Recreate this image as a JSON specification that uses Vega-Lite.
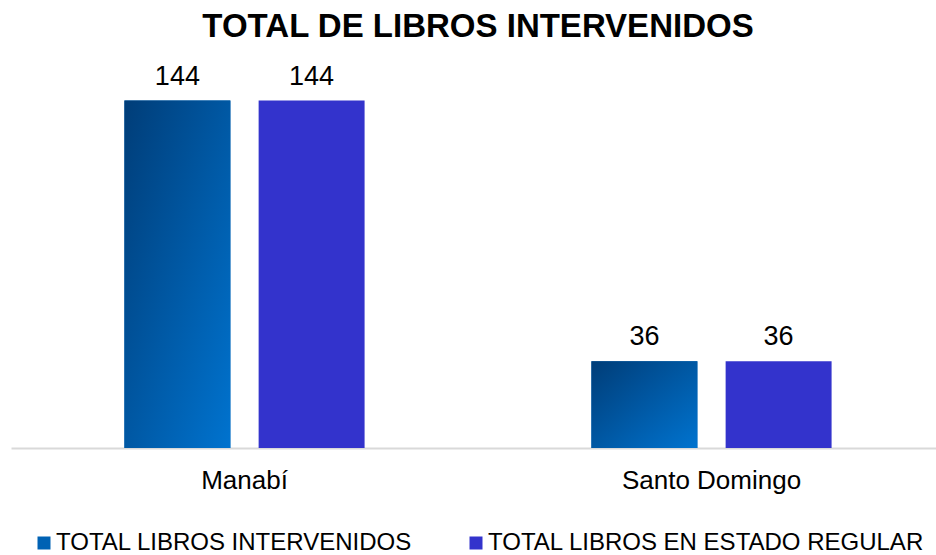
{
  "$schema": "https://vega.github.io/schema/vega-lite/v6.json",
  "autosize": {"type": "none"},
  "width": 926,
  "height": 386,
  "padding": {"left": 10, "top": 62, "right": 0, "bottom": 107},
  "background": "white",
  "config": {"view": {"stroke": null}},
  "title": {
    "text": "TOTAL DE LIBROS INTERVENIDOS",
    "font": "Liberation Sans",
    "fontSize": 33,
    "fontWeight": "bold",
    "color": "#000000",
    "anchor": "middle",
    "baseline": "alphabetic",
    "offset": 23,
    "dy": 31,
    "dx": 5
  },
  "data": {
    "values": [
      {"region": "Manabí", "series": "TOTAL LIBROS INTERVENIDOS", "value": 144},
      {"region": "Manabí", "series": "TOTAL LIBROS EN ESTADO REGULAR", "value": 144},
      {"region": "Santo Domingo", "series": "TOTAL LIBROS INTERVENIDOS", "value": 36},
      {"region": "Santo Domingo", "series": "TOTAL LIBROS EN ESTADO REGULAR", "value": 36}
    ]
  },
  "encoding": {
    "x": {
      "field": "region",
      "type": "nominal",
      "sort": ["Manabí", "Santo Domingo"],
      "scale": {"paddingInner": 0, "paddingOuter": 0, "range": [1, 935]},
      "axis": {
        "title": null,
        "labelAngle": 0,
        "labelFont": "Liberation Sans",
        "labelFontSize": 26,
        "labelColor": "#000000",
        "labelPadding": 19,
        "ticks": false,
        "grid": false,
        "domainColor": "#d9d9d9",
        "domainWidth": 2
      }
    },
    "xOffset": {
      "field": "series",
      "type": "nominal",
      "sort": ["TOTAL LIBROS INTERVENIDOS", "TOTAL LIBROS EN ESTADO REGULAR"],
      "scale": {"paddingInner": 0.2105, "paddingOuter": 0.845}
    },
    "y": {
      "field": "value",
      "type": "quantitative",
      "scale": {"domain": [0, 160]},
      "axis": null
    }
  },
  "layer": [
    {
      "mark": {"type": "bar"},
      "encoding": {
        "color": {
          "field": "series",
          "type": "nominal",
          "sort": ["TOTAL LIBROS INTERVENIDOS", "TOTAL LIBROS EN ESTADO REGULAR"],
          "scale": {
            "domain": ["TOTAL LIBROS INTERVENIDOS", "TOTAL LIBROS EN ESTADO REGULAR"],
            "range": ["#0062b4", "#3333cc"]
          },
          "legend": {
            "title": null,
            "orient": "none",
            "legendX": 22,
            "legendY": 469,
            "direction": "horizontal",
            "symbolType": "square",
            "symbolSize": 169,
            "symbolStrokeWidth": 0,
            "symbolOpacity": 1,
            "labelFont": "Liberation Sans",
            "labelFontSize": 24,
            "labelColor": "#000000",
            "labelOffset": 0,
            "labelLimit": 600,
            "columnPadding": 51,
            "padding": 0
          }
        }
      }
    },
    {
      "transform": [{"filter": "datum.series === 'TOTAL LIBROS INTERVENIDOS'"}],
      "mark": {
        "type": "bar",
        "color": {"gradient": "linear", "x1": 0, "y1": 0, "x2": 1, "y2": 1,
          "stops": [{"offset": 0, "color": "#003d78"}, {"offset": 1, "color": "#0073cf"}]}
      },
      "encoding": {}
    },
    {
      "mark": {
        "type": "text",
        "baseline": "alphabetic",
        "dy": -16,
        "font": "Liberation Sans",
        "fontSize": 27,
        "color": "#000000"
      },
      "encoding": {
        "text": {"field": "value", "type": "quantitative"}
      }
    }
  ]
}
